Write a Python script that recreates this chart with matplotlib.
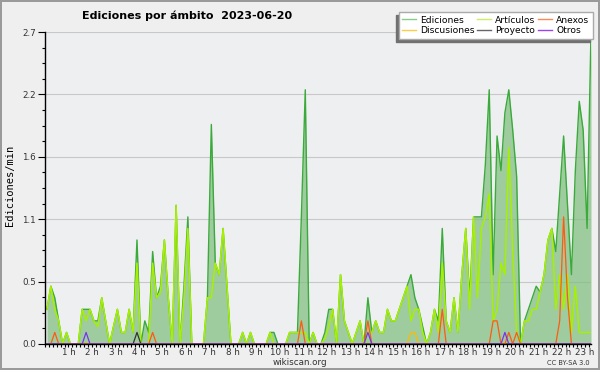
import numpy as np
import matplotlib
matplotlib.use("Agg")
import matplotlib.pyplot as plt
from matplotlib.lines import Line2D
from matplotlib.ticker import FixedLocator, MultipleLocator, FuncFormatter

# edits per minute, one value per 10-minute slot (00:05, 00:15, ... 23:15)
ediciones = [
    0.3, 0.5, 0.4, 0.2, 0, 0.1, 0, 0, 0, 0.3, 0.3, 0.3,
    0.2, 0.2, 0.4, 0.2, 0, 0.15, 0.3, 0.1, 0.1, 0.3, 0.1, 0.9,
    0, 0.2, 0.1, 0.8, 0.4, 0.5, 0.9, 0.4, 0, 1.2, 0, 0.5,
    1.1, 0, 0, 0, 0, 0.4, 1.9, 0.7, 0.6, 1.0, 0.5, 0,
    0, 0, 0.1, 0, 0.1, 0, 0, 0, 0, 0.1, 0.1, 0,
    0, 0, 0.1, 0.1, 0.1, 1.1, 2.2, 0, 0.1, 0, 0, 0.1,
    0.3, 0.3, 0, 0.6, 0.2, 0.1, 0, 0.1, 0.2, 0, 0.4, 0.1,
    0.2, 0.1, 0.1, 0.3, 0.2, 0.2, 0.3, 0.4, 0.5, 0.6, 0.4, 0.3,
    0.15, 0, 0.1, 0.3, 0.2, 1.0, 0.2, 0.1, 0.4, 0.1, 0.6, 1.0,
    0.4, 1.1, 1.1, 1.1, 1.55, 2.2, 0.6, 1.8, 1.5, 2.0, 2.2, 1.85,
    1.45, 0, 0.2, 0.3, 0.4, 0.5, 0.45, 0.6, 0.9, 1.0, 0.8, 1.3,
    1.8, 1.2, 0.6, 1.5, 2.1, 1.85, 1.0, 2.7,
]
articulos = [
    0.3, 0.5, 0.3, 0.2, 0, 0.1, 0, 0, 0, 0.3, 0.2, 0.3,
    0.2, 0.15, 0.4, 0.2, 0, 0.15, 0.3, 0.1, 0.1, 0.3, 0.1, 0.7,
    0, 0, 0, 0.7, 0.4, 0.45, 0.9, 0.4, 0, 1.2, 0, 0.4,
    1.0, 0, 0, 0, 0, 0.4, 0.4, 0.7, 0.6, 1.0, 0.5, 0,
    0, 0, 0.1, 0, 0.1, 0, 0, 0, 0, 0.1, 0, 0,
    0, 0, 0.1, 0.1, 0.1, 0.1, 0.1, 0, 0.1, 0, 0, 0.05,
    0.15, 0.3, 0, 0.6, 0.2, 0.1, 0, 0.1, 0.2, 0, 0.1, 0.1,
    0.2, 0.1, 0.1, 0.3, 0.2, 0.2, 0.3, 0.4, 0.5, 0.2, 0.3, 0.3,
    0.1, 0, 0.1, 0.3, 0.1, 0.7, 0.2, 0.1, 0.4, 0.1, 0.6, 1.0,
    0.3, 1.1, 0.4, 1.0, 1.1, 1.3, 0.2, 0.3, 0.7, 0.6, 1.7, 0.8,
    0.1, 0, 0.2, 0.2, 0.3, 0.3, 0.45, 0.6, 0.9, 1.0, 0.3, 0.6,
    0.3, 0.6, 0.1, 0.5, 0.1, 0.1, 0.1, 0.1,
]
# sparse series: slot index -> edits/min (all other slots are 0)
anexos = {2: 0.1, 27: 0.1, 65: 0.2, 82: 0.2, 101: 0.3, 114: 0.2, 115: 0.2,
          118: 0.1, 120: 0.1, 131: 0.2, 132: 1.1, 133: 0.4}
otros = {10: 0.1, 82: 0.1, 117: 0.1}
proyecto = {23: 0.1}
discusiones = {93: 0.1, 94: 0.1}

hour_labels = [f"{h} h" for h in range(1, 24)]
legend_labels = ["Ediciones", "Discusiones", "Artículos", "Proyecto", "Anexos", "Otros"]
legend_colors = ["#88cc88", "#ffcc44", "#ccee66", "#666666", "#ff8855", "#9944ee"]


def sparse(d, n):
    a = np.zeros(n)
    for k, v in d.items():
        a[k] = v
    return a


n = len(ediciones)
t = (np.arange(n) * 10 + 5) / 60.0  # slot centre, in hours

fig = plt.figure(figsize=(6, 3.7), dpi=100, facecolor="#efefef",
                 edgecolor="#9a9a9a", linewidth=1.5)
ax = fig.add_axes([0.075, 0.0703, 0.91, 0.8432])
ax.set_facecolor("#eeeff0")

ax.fill_between(t, 0, ediciones, color="#7fbf7f", alpha=0.72, lw=0, zorder=1)
ax.plot(t, ediciones, color="#3aaa3a", lw=1.0, zorder=2)
ax.plot(t, articulos, color="#a6f000", lw=1.1, zorder=2.1)
ax.plot(t, sparse(discusiones, n), color="#ffbb00", lw=0.9, zorder=2.2)
ax.plot(t, sparse(proyecto, n), color="#333333", lw=0.9, zorder=2.2)
ax.plot(t, sparse(anexos, n), color="#ff5a10", lw=0.9, zorder=2.3)
ax.plot(t, sparse(otros, n), color="#7733ee", lw=0.9, zorder=2.4)

ax.set_xlim(0, t[-1])
ax.set_ylim(0, 2.7)

ax.xaxis.set_major_locator(FixedLocator(range(1, 24)))
ax.xaxis.set_major_formatter(FuncFormatter(lambda v, p: hour_labels[int(round(v)) - 1]))
ax.xaxis.set_minor_locator(MultipleLocator(1 / 6))
ax.yaxis.set_major_locator(FixedLocator(np.linspace(0, 2.7, 6)))
ax.yaxis.set_major_formatter(FuncFormatter(lambda v, p: f"{v:.1f}"))
ax.yaxis.set_minor_locator(MultipleLocator(2.7 / 20))

ax.tick_params(labelsize=6.3, labelcolor="#333333", width=0.8)
ax.tick_params(axis="y", which="major", length=5, pad=1.5)
ax.tick_params(axis="y", which="minor", length=2.5, width=0.8)
ax.tick_params(axis="x", which="both", length=2.3, width=0.8, pad=0.3)

ax.grid(axis="y", color="#c8c8c8", lw=0.8)
ax.set_axisbelow(True)
for s in ("top", "right"):
    ax.spines[s].set_visible(False)
for s in ("left", "bottom"):
    ax.spines[s].set_linewidth(1.0)

fig.text(0.3125, 0.958, "Ediciones por ámbito  2023-06-20", weight="bold",
         size=8, ha="center", va="center")
fig.text(0.017, 0.5, "Ediciones/min", rotation=90, family="DejaVu Sans Mono",
         size=7.5, ha="center", va="center")
fig.text(0.5, 0.02, "wikiscan.org", size=6.3, ha="center", va="center", color="#333333")
fig.text(0.983, 0.02, "CC BY-SA 3.0", size=4.8, ha="right", va="center", color="#333333")

handles = [Line2D([], [], color=c, lw=1.0) for c in legend_colors]
fig.legend(handles, legend_labels, ncol=3, loc="upper right",
           bbox_to_anchor=(593 / 600, 1 - 12 / 370), borderaxespad=0,
           fontsize=6.6, frameon=True, fancybox=False, edgecolor="#aaaaaa",
           framealpha=1, handlelength=1.5, handletextpad=0.45,
           columnspacing=0.3, labelspacing=0.15, borderpad=0.4,
           shadow={"ox": -2.2, "oy": -2.2, "color": "#707070", "alpha": 1})

fig.savefig("out.png", dpi=100, facecolor=fig.get_facecolor(), edgecolor=fig.get_edgecolor())
